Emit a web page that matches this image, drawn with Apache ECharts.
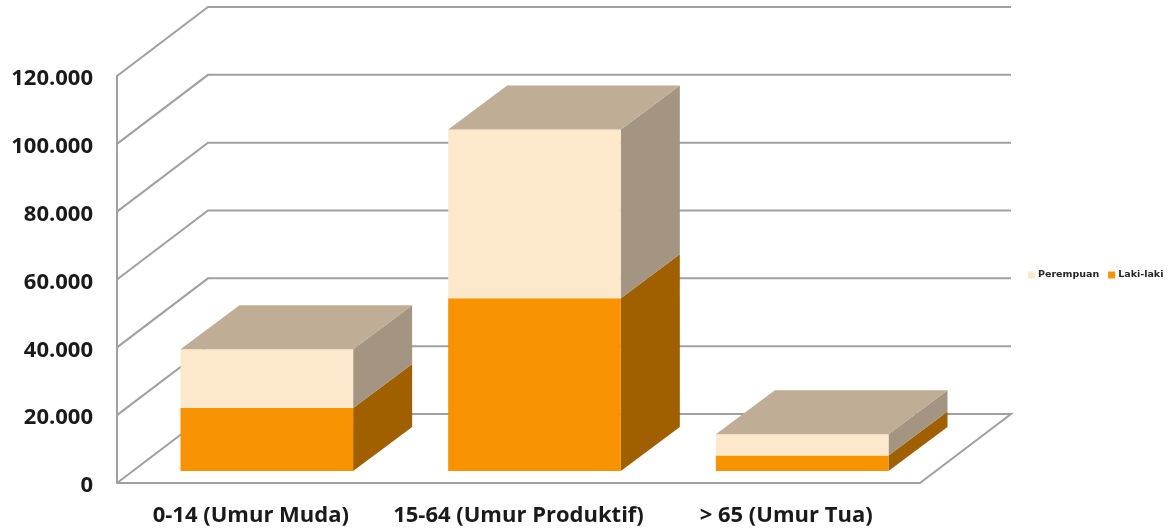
<!DOCTYPE html>
<html>
<head>
<meta charset="utf-8">
<style>
html, body { margin: 0; padding: 0; background: #fff; }
#chart { width: 1176px; height: 529px; }
</style>
<script src="https://cdn.jsdelivr.net/npm/echarts@6/dist/echarts.min.js"></script>
</head>
<body>
<div id="chart"></div>
<script>
var categories = ['0-14 (Umur Muda)', '15-64 (Umur Produktif)', '> 65 (Umur Tua)'];
var lakiLaki = [18600, 50900, 4600];
var perempuan = [17300, 49800, 6200];
var yTicks = [0, 20000, 40000, 60000, 80000, 100000, 120000];

// depth of the fake 3d box, in px
var wallDx = 91, wallDy = -69;
var barNearDx = 16, barNearDy = -12;
var barDx = 59, barDy = -44;
var barWidthRate = 0.645;
var lineColor = '#a0a0a0';

function poly(points, color) {
    return { type: 'polygon', shape: { points: points }, style: { fill: color } };
}

// one stacked segment: front + side, top face only when asked
function barSegment(front, side, top) {
    return function (params, api) {
        var c0 = api.coord([api.value(0), api.value(1)]);
        var c1 = api.coord([api.value(0), api.value(2)]);
        var w = api.size([1, 0])[0] * barWidthRate;
        var x0 = c0[0] - w / 2 + barNearDx, x1 = x0 + w;
        var y0 = c0[1] + barNearDy, y1 = c1[1] + barNearDy;
        var kids = [
            poly([[x1, y0], [x1 + barDx, y0 + barDy], [x1 + barDx, y1 + barDy], [x1, y1]], side),
            poly([[x0, y0], [x1, y0], [x1, y1], [x0, y1]], front)
        ];
        if (top) {
            kids.push(poly([[x0, y1], [x1, y1], [x1 + barDx, y1 + barDy], [x0 + barDx, y1 + barDy]], top));
        }
        return { type: 'group', children: kids };
    };
}

function wallLine(params, api) {
    var g = params.coordSys;
    var p = api.coord([0, api.value(0)]);
    var left = g.x, right = g.x + g.width;
    var pts = [[left, p[1]], [left + wallDx, p[1] + wallDy], [right + wallDx, p[1] + wallDy]];
    if (api.value(0) === 0) pts.push([right, p[1]]);
    return {
        type: 'polyline',
        shape: { points: pts },
        style: { fill: null, stroke: lineColor, lineWidth: 2 }
    };
}

var lakiData = [], perempuanData = [];
categories.forEach(function (c, i) {
    lakiData.push([i, 0, lakiLaki[i]]);
    perempuanData.push([i, lakiLaki[i], lakiLaki[i] + perempuan[i]]);
});

var chart = echarts.init(document.getElementById('chart'));
chart.setOption({
    animation: false,
    backgroundColor: '#fff',
    grid: { left: 117, top: 76, width: 803, height: 407, containLabel: false },
    legend: {
        data: ['Perempuan', 'Laki-laki'],
        left: 1028, top: 270, padding: 0,
        itemWidth: 7, itemHeight: 7, itemGap: 9,
        icon: 'rect',
        textStyle: { fontFamily: 'DejaVu Sans', fontSize: 9.5, fontWeight: 'bold', color: '#262626', padding: [0, 0, 0, -2] }
    },
    xAxis: {
        type: 'category',
        data: categories,
        axisLine: { lineStyle: { color: lineColor, width: 2 } },
        axisTick: { show: false },
        axisLabel: { interval: 0, fontFamily: 'Open Sans', fontSize: 22, fontWeight: 'bold', color: '#1a1a1a', margin: 22 }
    },
    yAxis: {
        type: 'value',
        min: 0, max: 120000, interval: 20000,
        axisLine: { show: true, lineStyle: { color: lineColor, width: 2 } },
        axisTick: { show: false },
        splitLine: { show: false },
        axisLabel: {
            fontFamily: 'Open Sans', fontSize: 22, fontWeight: 'bold', color: '#1a1a1a', margin: 24,
            verticalAlign: 'top', lineHeight: 6,
            formatter: function (v) { return v === 0 ? '0' : (v / 1000) + '.000'; }
        }
    },
    series: [
        {
            name: 'wall', type: 'custom', z: 1, silent: true,
            data: yTicks.map(function (v) { return [v]; }),
            encode: { y: 0 },
            renderItem: wallLine
        },
        {
            name: 'Laki-laki', type: 'custom', z: 2,
            itemStyle: { color: '#f79200' },
            data: lakiData,
            encode: { x: 0, y: [1, 2] },
            renderItem: barSegment('#f79200', '#a06000', null)
        },
        {
            name: 'Perempuan', type: 'custom', z: 3,
            itemStyle: { color: '#fde8cc' },
            data: perempuanData,
            encode: { x: 0, y: [1, 2] },
            renderItem: barSegment('#fde8cc', '#a39581', '#bfae95')
        }
    ]
});
</script>
</body>
</html>
